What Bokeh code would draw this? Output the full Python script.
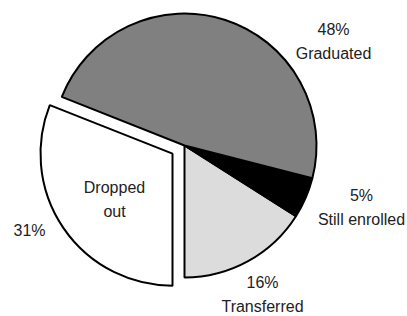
import math
from bokeh.plotting import figure
from bokeh.models import Range1d, ColumnDataSource
from bokeh.core.properties import value
from bokeh.embed import file_html
from bokeh.resources import INLINE

# ---- data ----
categories = ["Transferred", "Still enrolled", "Graduated", "Dropped out"]
percents = [16, 5, 48, 31]
colors = ["#dcdcdc", "#000000", "#808080", "#ffffff"]
exploded = [False, False, False, True]

# ---- layout ----
W, H = 407, 316
CX, CY = 184, H - 145   # pie centre
R = 132
EXPLODE = 14.5
FONT = value("Liberation Sans")
FS = "16px"
LH = 1.38

p = figure(width=W, height=H, output_backend="svg", toolbar_location=None,
           x_range=Range1d(0, W), y_range=Range1d(0, H), min_border=0)
p.axis.visible = False
p.grid.visible = False
p.outline_line_color = None

start = 1.5 * math.pi  # start at 6 o'clock, go anticlockwise
total = sum(percents)
xs, ys, starts, ends = [], [], [], []
for pc, ex in zip(percents, exploded):
    a0 = start
    a1 = start + 2 * math.pi * pc / total
    mid = (a0 + a1) / 2
    d = EXPLODE if ex else 0
    xs.append(CX + d * math.cos(mid))
    ys.append(CY + d * math.sin(mid))
    starts.append(a0)
    ends.append(a1)
    start = a1

src = ColumnDataSource(dict(x=xs, y=ys, s=starts, e=ends, c=colors))
p.wedge(x="x", y="y", radius=R, start_angle="s", end_angle="e", direction="anticlock",
        fill_color="c", line_color="black", line_width=2, source=src)

# ---- labels (offsets from pie centre, in pixels) ----
label_offsets = {
    "Graduated": (149, 104),
    "Still enrolled": (177, -62),
    "Transferred": (78, -149),
}
lx, ly, lt = [], [], []
for cat, pc in zip(categories, percents):
    if cat in label_offsets:
        dx, dy = label_offsets[cat]
        lx.append(CX + dx)
        ly.append(CY + dy)
        lt.append(f"{pc}%\n{cat}")
p.text(x=lx, y=ly, text=lt, text_align="center", text_baseline="middle",
       text_font=FONT, text_font_size=FS, text_color="#222222",
       text_line_height=LH)

# Dropped out: name inside, percent outside
i = categories.index("Dropped out")
p.text(x=[CX - 70], y=[CY - 54], text=["Dropped\nout"], text_align="center",
       text_baseline="middle", text_font=FONT, text_font_size=FS,
       text_color="#222222", text_line_height=LH)
p.text(x=[CX - 155], y=[CY - 85], text=[f"{percents[i]}%"], text_align="center",
       text_baseline="middle", text_font=FONT, text_font_size=FS,
       text_color="#222222")

open("out.html", "w").write(file_html(p, INLINE))
